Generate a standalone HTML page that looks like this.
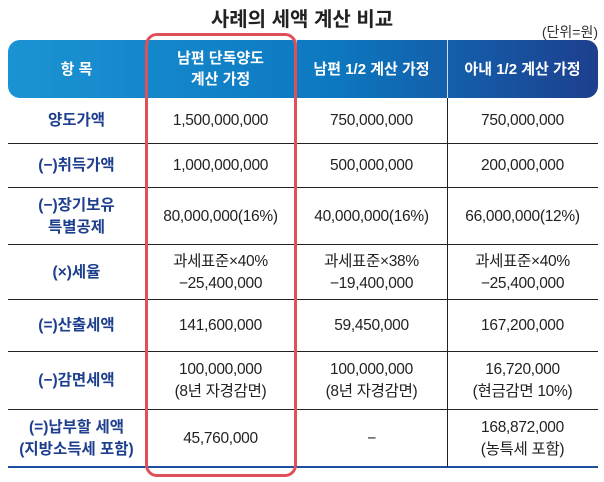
<!DOCTYPE html>
<html><head><meta charset="utf-8"><style>
body{margin:0;width:604px;height:482px;background:#fff;font-family:"Liberation Sans","Noto Sans CJK KR",sans-serif;position:relative;overflow:hidden}
.t{position:absolute;left:0;width:604px;top:3px;text-align:center;font-size:20px;font-weight:bold;color:#222}
.u{position:absolute;right:6px;top:22px;font-size:14px;color:#333}
.hdr{position:absolute;left:8px;top:40px;width:590px;height:58px;border-radius:12px;background:linear-gradient(90deg,#1b93d3 0%,#0c78c0 55%,#1d3f8e 100%)}
.hc{position:absolute;top:40px;height:58px;display:flex;align-items:center;justify-content:center;text-align:center;color:#fff;font-weight:bold;font-size:15px;line-height:21px}
.vs{position:absolute;width:1px;background:#fff;top:40px;height:58px;opacity:.8}
.row{position:absolute;left:8px;width:590px;border-bottom:1px solid #222}
.c{position:absolute;display:flex;align-items:center;justify-content:center;text-align:center;font-size:15.5px;color:#222;line-height:22px;letter-spacing:-0.3px}
.c0{color:#1e3f8e;font-weight:bold;left:8px;width:137px;letter-spacing:0}
.vl{position:absolute;width:1px;background:#222}
.red{position:absolute;left:145px;top:33px;width:146px;height:438px;border:3px solid #e0505a;border-radius:12px}
</style></head><body>
<div class="t">사례의 세액 계산 비교</div>
<div class="u">(단위=원)</div>
<div class="hdr"></div>
<div class="vs" style="left:296px"></div>
<div class="vs" style="left:447px"></div>
<div class="hc" style="left:8px;width:137px">항 목</div>
<div class="hc" style="left:145px;width:151px">남편 단독양도<br>계산 가정</div>
<div class="hc" style="left:296px;width:151px">남편 1/2 계산 가정</div>
<div class="hc" style="left:447px;width:151px">아내 1/2 계산 가정</div>
<div id="body"></div>
<div class="red"></div>
<script>
const rows=[
["양도가액","1,500,000,000","750,000,000","750,000,000"],
["(−)취득가액","1,000,000,000","500,000,000","200,000,000"],
["(−)장기보유<br>특별공제","80,000,000(16%)","40,000,000(16%)","66,000,000(12%)"],
["(×)세율","과세표준×40%<br>−25,400,000","과세표준×38%<br>−19,400,000","과세표준×40%<br>−25,400,000"],
["(=)산출세액","141,600,000","59,450,000","167,200,000"],
["(−)감면세액","100,000,000<br>(8년 자경감면)","100,000,000<br>(8년 자경감면)","16,720,000<br>(현금감면 10%)"],
["(=)납부할 세액<br>(지방소득세 포함)","45,760,000","−","168,872,000<br>(농특세 포함)"]];
const edges=[98,144,188,245,300,352,410,467];
const lefts=[145,296,447],w=151;
const b=document.getElementById('body');
rows.forEach((r,i)=>{
 const top=edges[i],h=edges[i+1]-top;
 const ln=document.createElement('div');ln.className='row';
 
 
 ln.style.top=top+'px';ln.style.height=(h-1)+'px';
 if(i==rows.length-1)ln.style.borderBottom='2px solid #1e4fa0';
 b.appendChild(ln);
 r.forEach((t,j)=>{
  const c=document.createElement('div');c.className='c'+(j==0?' c0':'');
  
  
  c.style.top=top+'px';c.style.height=h+'px';
  if(j>0){c.style.left=lefts[j-1]+'px';c.style.width=w+'px';}
  c.innerHTML=t;b.appendChild(c);
 });
});
[296,447].forEach(x=>{const v=document.createElement('div');v.className='vl';


v.style.left=x+'px';v.style.top='98px';v.style.height='369px';b.appendChild(v);});
</script>
</body></html>
